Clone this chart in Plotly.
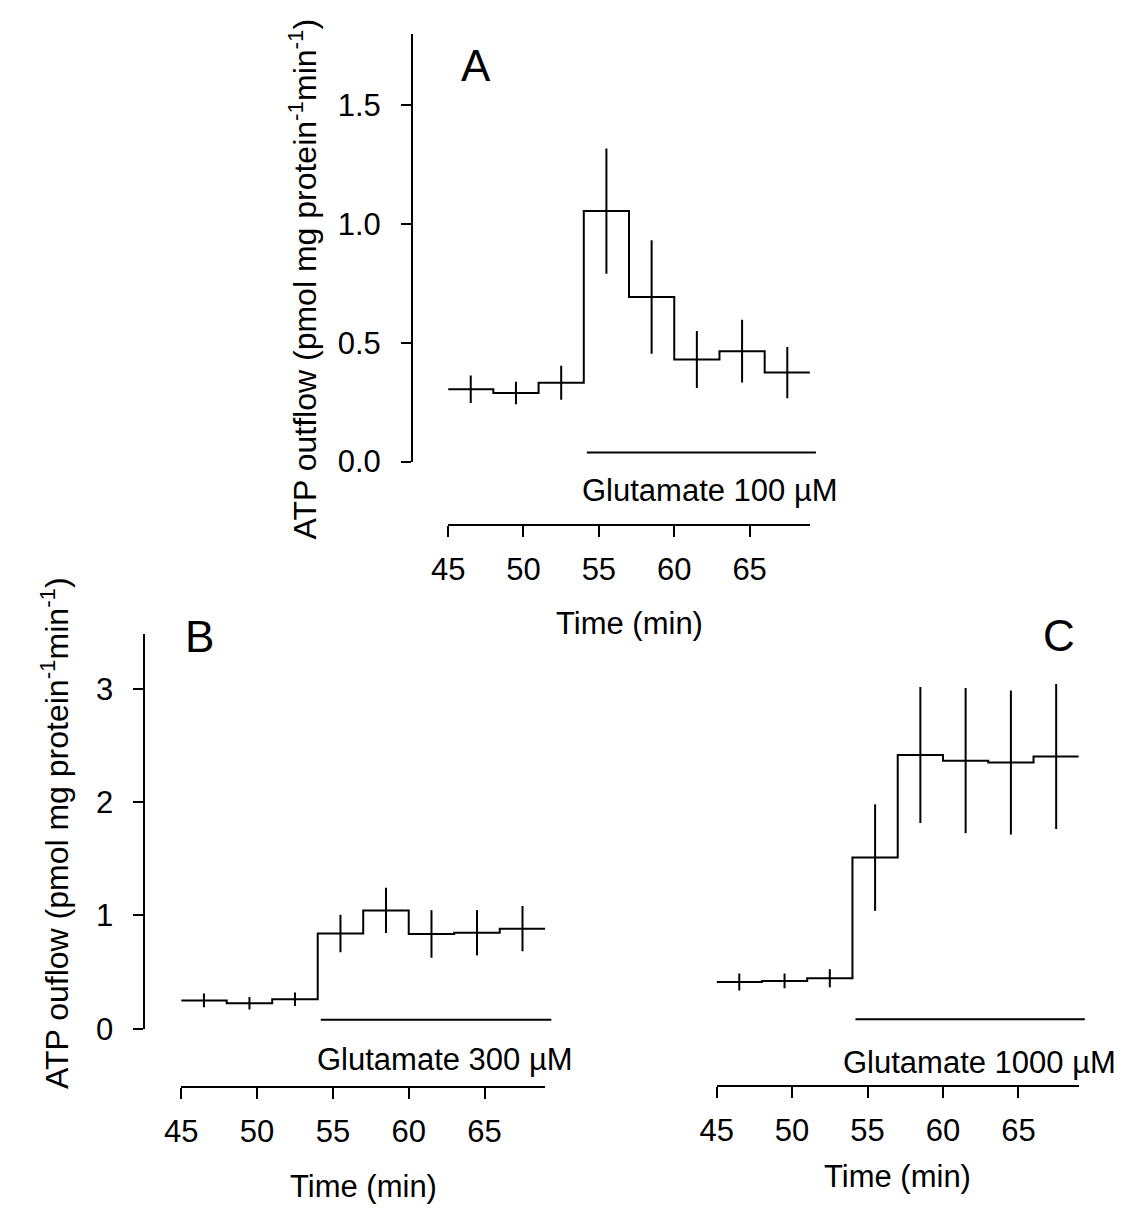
import plotly.graph_objects as go

# ---------------- data ----------------
time_edges = [45, 48, 51, 54, 57, 60, 63, 66, 69]
bin_centers = [46.5, 49.5, 52.5, 55.5, 58.5, 61.5, 64.5, 67.5]

a_mean = [0.305, 0.289, 0.332, 1.055, 0.693, 0.430, 0.465, 0.375]
a_err = [0.058, 0.047, 0.072, 0.264, 0.239, 0.120, 0.132, 0.108]

b_mean = [0.250, 0.225, 0.260, 0.840, 1.044, 0.836, 0.847, 0.883]
b_err = [0.060, 0.055, 0.060, 0.165, 0.200, 0.210, 0.200, 0.200]

c_mean = [0.412, 0.422, 0.445, 1.510, 2.415, 2.365, 2.348, 2.402]
c_err = [0.075, 0.065, 0.080, 0.470, 0.600, 0.640, 0.635, 0.640]

glu_start = 54.2
glu_end = 69.4
glu_level = {"A": 0.038, "B": 0.079, "C": 0.083}
glu_labels = {"A": "Glutamate 100 µM", "B": "Glutamate 300 µM", "C": "Glutamate 1000 µM"}

x_ticks = [45, 50, 55, 60, 65]
a_yticks = [0.0, 0.5, 1.0, 1.5]
a_yticklabels = ["0.0", "0.5", "1.0", "1.5"]
b_yticks = [0, 1, 2, 3]

# ---------------- layout helpers ----------------
W, H = 1132, 1224
FONT = "Liberation Sans, Arial, sans-serif"
FS = 31


def fx(px):
    return px / W


def fy(py):
    return 1 - py / H


panels = {
    "A": dict(x0=437.7, x1=805.0, yax=401.0, xline=532.7, y0=468.5, ytop=34.7, yv=1.8),
    "B": dict(x0=166.7, x1=536.3, yax=129.3, xline=1103.3, y0=1044.1, ytop=643.7, yv=3.48),
    "C": dict(x0=710.3, x1=1078.0, yax=None, xline=1102.0, y0=1044.1, ytop=643.7, yv=3.48),
}

fig = go.Figure()
names = ["A", "B", "C"]
means = {"A": a_mean, "B": b_mean, "C": c_mean}
errs = {"A": a_err, "B": b_err, "C": c_err}

layout = dict(
    width=W, height=H,
    margin=dict(l=0, r=0, t=0, b=0),
    paper_bgcolor="white", plot_bgcolor="rgba(0,0,0,0)",
    showlegend=False,
    font=dict(family=FONT, size=FS, color="black"),
)

annotations = []
for i, n in enumerate(names, start=1):
    p = panels[n]
    sfx = "" if i == 1 else str(i)
    hsfx = str(i + 3)
    ppm = (p["x1"] - p["x0"]) / (time_edges[-1] - time_edges[0])
    layout["xaxis" + sfx] = dict(
        domain=[fx(p["x0"]), fx(p["x1"])],
        range=[time_edges[0], time_edges[-1]],
        anchor="free", position=fy(p["xline"]),
        showline=True, linecolor="black", linewidth=2,
        ticks="outside", ticklen=11, tickwidth=2, tickcolor="black",
        tickvals=x_ticks, ticktext=[str(t) for t in x_ticks],
        showgrid=False, zeroline=False,
        tickfont=dict(family=FONT, size=FS, color="black"),
        ticklabelstandoff=6,
    )
    yd = dict(
        domain=[fy(p["y0"]), fy(p["ytop"])],
        range=[0, p["yv"]],
        showgrid=False, zeroline=False,
    )
    if p["yax"] is not None:
        yd.update(
            anchor="free", position=fx(p["yax"]),
            showline=True, linecolor="black", linewidth=2,
            ticks="outside", ticklen=10, tickwidth=2, tickcolor="black",
            tickfont=dict(family=FONT, size=FS, color="black"),
            ticklabelstandoff=14,
        )
        if n == "A":
            yd.update(tickvals=a_yticks, ticktext=a_yticklabels)
        else:
            yd.update(tickvals=b_yticks, ticktext=[str(t) for t in b_yticks])
    else:
        yd.update(visible=False, anchor="x" + sfx)
    layout["yaxis" + sfx] = yd

    # invisible helper axis with identical scale, wider domain, for the glutamate bar
    hx0 = p["x0"] - 60
    hx1 = p["x1"] + 30
    layout["xaxis" + hsfx] = dict(
        domain=[fx(hx0), fx(hx1)],
        range=[time_edges[0] + (hx0 - p["x0"]) / ppm, time_edges[-1] + (hx1 - p["x1"]) / ppm],
        visible=False, anchor="y" + sfx,
    )

    xa = "x" + sfx
    ya = "y" + sfx
    fig.add_trace(go.Scatter(
        x=time_edges, y=means[n] + [means[n][-1]],
        mode="lines", line=dict(shape="hv", color="black", width=2),
        xaxis=xa, yaxis=ya, hoverinfo="skip",
    ))
    fig.add_trace(go.Scatter(
        x=bin_centers, y=means[n], mode="markers",
        marker=dict(size=2, color="rgba(0,0,0,0)"),
        error_y=dict(type="data", array=errs[n], visible=True, color="black",
                     thickness=2, width=0),
        xaxis=xa, yaxis=ya, hoverinfo="skip",
    ))
    fig.add_trace(go.Scatter(
        x=[glu_start, glu_end], y=[glu_level[n], glu_level[n]],
        mode="lines", line=dict(color="black", width=2),
        xaxis="x" + hsfx, yaxis=ya, hoverinfo="skip",
    ))

gl_y = {"A": 498.3, "B": 1074.9, "C": 1078.4}
time_y = {"A": 633.3, "B": 1204.2, "C": 1194.0}
letter_pos = {"A": (465.7, 66.3), "B": (185.7, 645.7), "C": (1058.3, 645.0)}
for i, n in enumerate(names, start=1):
    sfx = "" if i == 1 else str(i)
    annotations.append(dict(
        text=glu_labels[n], xref="x" + sfx, yref="paper", x=62.4, y=fy(gl_y[n]),
        xanchor="center", yanchor="middle", showarrow=False,
        font=dict(family=FONT, size=FS, color="black"),
    ))
    annotations.append(dict(
        text="Time (min)", xref="x" + sfx, yref="paper", x=57, y=fy(time_y[n]),
        xanchor="center", yanchor="middle", showarrow=False,
        font=dict(family=FONT, size=FS, color="black"),
    ))
    lx, ly = letter_pos[n]
    annotations.append(dict(
        text=n, xref="paper", yref="paper", x=fx(lx), y=fy(ly),
        xanchor="center", yanchor="middle", showarrow=False,
        font=dict(family=FONT, size=44, color="black"),
    ))

annotations.append(dict(
    text="ATP outflow (pmol mg protein<sup>-1</sup>min<sup>-1</sup>)",
    xref="paper", yref="paper", x=fx(290), y=fy(283), textangle=-90,
    xanchor="center", yanchor="middle", showarrow=False,
    font=dict(family=FONT, size=32, color="black"),
))
annotations.append(dict(
    text="ATP ouflow (pmol mg protein<sup>-1</sup>min<sup>-1</sup>)",
    xref="paper", yref="paper", x=fx(38), y=fy(845), textangle=-90,
    xanchor="center", yanchor="middle", showarrow=False,
    font=dict(family=FONT, size=32, color="black"),
))

layout["annotations"] = annotations
fig.update_layout(**layout)
fig.write_html("out.html")
